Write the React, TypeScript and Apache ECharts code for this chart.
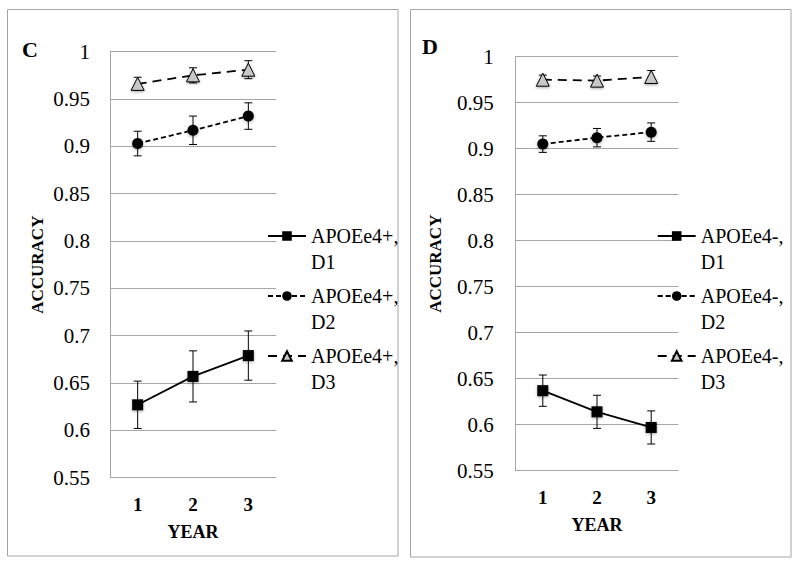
import React, { useEffect, useRef } from 'react';
import * as echarts from 'echarts';

const years = ['1', '2', '3'];

const cNames = ['APOEe4+, D1', 'APOEe4+, D2', 'APOEe4+, D3'];
const cD1 = [0.627, 0.657, 0.679];
const cD1Err = [0.025, 0.027, 0.026];
const cD2 = [0.903, 0.917, 0.932];
const cD2Err = [0.013, 0.015, 0.014];
const cD3 = [0.966, 0.975, 0.981];
const cD3Err = [0.007, 0.008, 0.0095];

const dNames = ['APOEe4-, D1', 'APOEe4-, D2', 'APOEe4-, D3'];
const dD1 = [0.637, 0.614, 0.597];
const dD1Err = [0.017, 0.018, 0.018];
const dD2 = [0.905, 0.912, 0.918];
const dD2Err = [0.009, 0.01, 0.01];
const dD3 = [0.975, 0.974, 0.978];
const dD3Err = [0.005, 0.005, 0.007];

const FONT = 'Liberation Serif';
const GRID_GRAY = '#a6a6a6';

const errData = (v: number[], e: number[]) => v.map((val, i) => [i, val - e[i], val + e[i]]);

const errSeries = (v: number[], e: number[], idx: number) => ({
  type: 'custom',
  xAxisIndex: idx,
  yAxisIndex: idx,
  z: 1,
  silent: true,
  encode: { x: 0, y: [1, 2] },
  data: errData(v, e),
  renderItem: (_p: any, api: any) => {
    const x = api.value(0);
    const lo = api.coord([x, api.value(1)]);
    const hi = api.coord([x, api.value(2)]);
    const w = 4;
    const st = { stroke: '#000', lineWidth: 1 };
    return {
      type: 'group',
      children: [
        { type: 'line', shape: { x1: lo[0], y1: lo[1], x2: hi[0], y2: hi[1] }, style: st },
        { type: 'line', shape: { x1: lo[0] - w, y1: lo[1], x2: lo[0] + w, y2: lo[1] }, style: st },
        { type: 'line', shape: { x1: hi[0] - w, y1: hi[1], x2: hi[0] + w, y2: hi[1] }, style: st },
      ],
    };
  },
});

const shadow = { shadowBlur: 3, shadowColor: 'rgba(0,0,0,0.35)', shadowOffsetY: 1 };

const lineSeries = (name: string, v: number[], idx: number, kind: number) => {
  const base: any = {
    name,
    type: 'line',
    xAxisIndex: idx,
    yAxisIndex: idx,
    z: 3,
    data: v,
  };
  if (kind === 0) {
    base.symbol = 'rect';
    base.symbolSize = 11;
    base.lineStyle = { color: '#000', width: 1.8, type: 'solid' };
    base.itemStyle = { color: '#000', ...shadow };
  } else if (kind === 1) {
    base.symbol = 'circle';
    base.symbolSize = 11;
    base.lineStyle = { color: '#000', width: 1.8, type: [5, 3] };
    base.itemStyle = { color: '#000', ...shadow };
  } else {
    base.symbol = 'triangle';
    base.symbolSize = 13;
    base.lineStyle = { color: '#000', width: 1.8, type: [9, 6] };
    base.itemStyle = { color: '#c8c8c8', borderColor: '#000', borderWidth: 1, ...shadow };
  }
  return base;
};

const makeLegend = (names: string[], left: number) => ({
  data: names,
  orient: 'vertical',
  left,
  top: 197,
  padding: 0,
  itemGap: -18,
  itemWidth: 38,
  itemHeight: 12,
  selectedMode: false,
  formatter: (n: string) => '\n' + n.replace(', ', ',\n'),
  textStyle: {
    fontFamily: FONT,
    fontSize: 20,
    color: '#000',
    lineHeight: 26,
  },
});

const yAxis = (idx: number, margin: number, nameGap: number) => ({
  type: 'value',
  gridIndex: idx,
  min: 0.55,
  max: 1,
  interval: 0.05,
  name: 'ACCURACY',
  nameLocation: 'middle',
  nameRotate: 90,
  nameGap,
  nameTextStyle: { fontFamily: FONT, fontSize: 17, fontWeight: 'bold', color: '#000' },
  axisLine: { show: true, lineStyle: { color: GRID_GRAY, width: 1 } },
  axisTick: { show: false },
  axisLabel: {
    margin,
    color: '#000',
    formatter: (v: number) => '{t|' + String(+v.toFixed(2)) + '}',
    rich: { t: { fontFamily: FONT, fontSize: 21, color: '#000' } },
  },
  splitLine: { show: true, lineStyle: { color: GRID_GRAY, width: 1 } },
});

const xAxis = (idx: number) => ({
  type: 'category',
  gridIndex: idx,
  data: years,
  boundaryGap: true,
  name: 'YEAR',
  nameLocation: 'middle',
  nameGap: 45,
  nameTextStyle: { fontFamily: FONT, fontSize: 18, fontWeight: 'bold', color: '#000' },
  axisLine: { show: false },
  axisTick: { show: false },
  axisLabel: { margin: 17, fontFamily: FONT, fontSize: 19, fontWeight: 'bold', color: '#000' },
  splitLine: { show: false },
});

export default function App() {
  const ref = useRef<HTMLDivElement>(null);
  useEffect(() => {
    if (!ref.current) return;
    const chart = echarts.init(ref.current, null, { renderer: 'svg' });
    chart.setOption({
      animation: false,
      backgroundColor: '#fff',
      textStyle: { fontFamily: FONT },
      grid: [
        { left: 110, top: 51.7, width: 166, height: 426 },
        { left: 515.7, top: 56.7, width: 162.6, height: 414 },
      ],
      xAxis: [xAxis(0), xAxis(1)],
      yAxis: [yAxis(0, 20, 64), yAxis(1, 22, 72)],
      legend: [makeLegend(cNames, 267), makeLegend(dNames, 656.7)],
      graphic: [
        { type: 'rect', shape: { x: 7.5, y: 9.5, width: 390.5, height: 546.5 }, style: { fill: 'none', stroke: GRID_GRAY, lineWidth: 1 }, z: 0 },
        { type: 'rect', shape: { x: 410.5, y: 9.5, width: 380.5, height: 547.5 }, style: { fill: 'none', stroke: GRID_GRAY, lineWidth: 1 }, z: 0 },
        { type: 'text', x: 22, y: 49, style: { text: 'C', fontFamily: FONT, fontSize: 22, fontWeight: 'bold', fill: '#000', verticalAlign: 'middle' } },
        { type: 'text', x: 422, y: 46, style: { text: 'D', fontFamily: FONT, fontSize: 22, fontWeight: 'bold', fill: '#000', verticalAlign: 'middle' } },
      ],
      series: [
        errSeries(cD1, cD1Err, 0),
        errSeries(cD2, cD2Err, 0),
        errSeries(cD3, cD3Err, 0),
        lineSeries(cNames[0], cD1, 0, 0),
        lineSeries(cNames[1], cD2, 0, 1),
        lineSeries(cNames[2], cD3, 0, 2),
        errSeries(dD1, dD1Err, 1),
        errSeries(dD2, dD2Err, 1),
        errSeries(dD3, dD3Err, 1),
        lineSeries(dNames[0], dD1, 1, 0),
        lineSeries(dNames[1], dD2, 1, 1),
        lineSeries(dNames[2], dD3, 1, 2),
      ],
    });
    return () => chart.dispose();
  }, []);
  return (
    <div
      ref={ref}
      style={{ position: 'fixed', left: 0, top: 0, width: 800, height: 568, background: '#fff' }}
    />
  );
}
